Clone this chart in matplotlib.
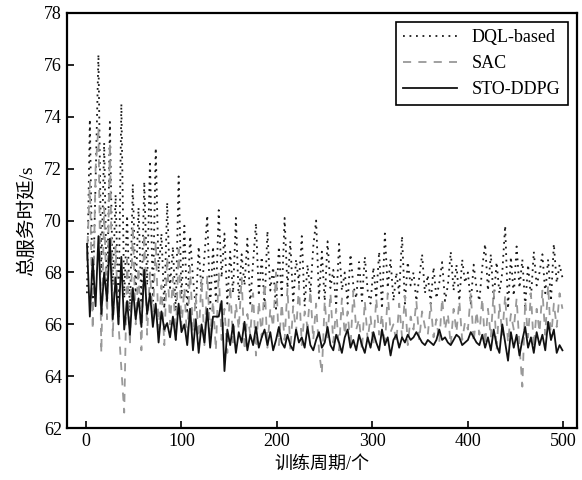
import numpy as np
import matplotlib.pyplot as plt

plt.rcParams['font.family'] = ['Liberation Serif', 'Noto Sans CJK SC']
plt.rcParams['axes.unicode_minus'] = False

# episodes sampled every 3
episodes = np.arange(1, 500, 3)

dql = [67.2, 73.9, 66.8, 71.5, 76.4, 68.0, 73.0, 66.6, 73.8, 67.5,
       71.0, 66.3, 74.5, 67.0, 70.2, 66.5, 71.4, 67.2, 70.5, 66.8,
       71.5, 67.5, 72.3, 66.9, 72.8, 68.0, 69.5, 66.6, 70.7, 67.4,
       69.0, 66.5, 71.7, 67.0, 69.8, 66.4, 69.4, 67.8, 66.6, 69.0,
       67.2, 68.6, 70.2, 66.6, 69.0, 66.9, 70.4, 67.8, 69.5, 66.8,
       68.8, 67.2, 70.1, 66.9, 68.7, 67.5, 69.3, 66.8, 68.4, 69.9,
       67.1, 68.6, 66.7, 69.6, 67.3, 68.2, 66.6, 69.0, 67.0, 70.1,
       67.4, 69.2, 66.8, 68.5, 67.6, 69.4, 66.7, 68.3, 67.2, 69.0,
       70.0, 67.0, 68.8, 66.9, 69.2, 67.4, 68.1, 66.7, 69.1, 67.3,
       68.0, 66.8, 68.7, 67.5, 67.0, 68.4, 66.9, 68.6, 67.3, 66.8,
       68.2, 67.0, 68.8, 66.6, 69.5, 67.4, 68.5, 66.9, 68.0, 67.2,
       69.4, 66.8, 68.4, 67.5, 68.0, 66.9, 67.8, 68.7, 67.2, 67.9,
       66.8, 68.2, 67.0, 67.6, 68.4, 66.9, 67.5, 68.8, 67.3, 68.3,
       66.9, 68.5, 67.6, 68.0, 66.8, 68.3, 67.4, 66.9, 68.2, 69.1,
       67.3, 68.7, 66.9, 68.4, 67.2, 68.0, 69.8, 66.6, 68.6, 67.1,
       69.0, 67.4, 68.5, 66.7, 68.3, 67.0, 68.8, 67.5, 68.0, 68.7,
       67.2, 68.5, 66.9, 69.1, 67.6, 68.3, 67.8]

sac = [68.5, 71.5, 65.8, 72.0, 73.6, 64.9, 70.5, 66.2, 73.0, 65.5,
       69.0, 66.0, 64.3, 62.6, 68.5, 65.2, 69.8, 66.0, 68.2, 65.0,
       69.5, 65.6, 68.0, 66.2, 69.2, 65.8, 67.5, 65.2, 68.6, 66.0,
       67.8, 65.4, 68.9, 65.9, 67.4, 65.3, 68.2, 65.7, 67.1, 65.5,
       67.8, 65.2, 67.9, 65.6, 66.9, 65.0, 68.0, 65.4, 66.6, 64.9,
       67.5, 65.3, 66.8, 65.8, 67.8, 65.0, 66.4, 65.6, 67.2, 64.8,
       66.9, 65.5, 67.6, 65.1, 66.6, 65.9, 68.0, 65.2, 66.8, 65.4,
       67.4, 65.0, 66.7, 65.7, 67.5, 65.2, 66.5, 65.9, 67.3, 65.4,
       66.8, 65.0, 64.1, 66.9, 65.5, 67.2, 65.3, 66.6, 65.0, 67.0,
       65.6, 66.5, 65.1, 67.3, 65.8, 66.2, 65.0, 66.9, 65.4, 66.3,
       65.2, 67.0, 65.6, 66.4, 65.1, 67.2, 65.7, 66.0, 65.3, 66.8,
       65.5, 67.1, 65.2, 66.3, 65.8, 66.9, 65.4, 66.5, 65.9, 65.6,
       66.8, 65.5, 66.2, 65.3, 67.0, 65.8, 66.4, 65.2, 66.6, 65.7,
       66.9, 65.4, 66.1, 65.8, 67.2, 65.3, 66.5, 65.6, 67.0, 65.2,
       66.6, 65.5, 67.3, 65.0, 66.8, 65.6, 67.1, 65.3, 66.4, 65.8,
       67.0, 65.2, 63.6, 66.9, 65.5, 67.2, 65.1, 66.6, 65.7, 67.3,
       65.6, 67.5, 65.4, 66.8, 65.9, 67.2, 66.6]

sto_ddpg = [69.1, 66.3, 68.5, 66.7, 69.4, 66.4, 68.0, 66.9, 69.3, 66.2,
            67.8, 66.0, 68.6, 65.8, 66.9, 65.6, 67.4, 66.2, 67.0, 65.9,
            68.1, 66.4, 67.2, 65.9, 66.8, 65.3, 66.5, 65.8, 66.05, 65.5,
            66.3, 65.4, 66.8, 65.7, 66.0, 65.2, 66.6, 65.0, 66.2, 64.9,
            66.0, 65.3, 66.6, 65.1, 66.3, 66.3, 66.3, 66.9, 64.2, 65.8,
            65.2, 66.0, 64.9, 65.7, 65.3, 66.1, 65.0, 65.6, 65.2, 65.9,
            65.1, 65.5, 65.8, 65.2, 65.7, 65.0, 65.4, 65.9, 65.3, 65.1,
            65.6, 65.2, 65.0, 65.8, 65.3, 65.5, 65.1, 65.9, 65.2, 65.0,
            65.4, 65.7, 65.1, 65.3, 65.9, 65.2, 65.0, 65.6, 65.3, 64.9,
            65.5, 65.8, 65.1, 65.4, 65.0, 65.6, 65.2, 64.9, 65.5, 65.1,
            65.7, 65.3, 65.0, 65.8, 65.2, 65.5, 64.8, 65.4, 65.6, 65.1,
            65.5, 65.3, 65.6, 65.4, 65.5, 65.7, 65.5, 65.3, 65.2, 65.4,
            65.3, 65.2, 65.4, 65.8, 65.4, 65.5, 65.3, 65.2, 65.4, 65.6,
            65.5, 65.2, 65.3, 65.4, 65.7, 65.5, 65.3, 65.2, 65.6, 65.1,
            65.5, 65.0, 65.8, 65.2, 64.9, 66.0, 65.3, 64.6, 65.7, 65.1,
            65.6, 64.8, 65.4, 65.9, 65.1, 65.5, 64.9, 65.7, 65.2, 65.6,
            65.0, 66.1, 65.4, 65.8, 64.9, 65.2, 65.0]

fig = plt.figure(figsize=(5.82, 4.8), dpi=100)
ax = fig.add_axes([0.115, 0.108, 0.876, 0.865])

ax.plot(episodes, dql, color='#1a1a1a', linestyle=(0, (1.0, 2.6)), lw=1.3, label='DQL-based')
ax.plot(episodes, sac, color='#999999', linestyle=(0, (4.5, 4)), lw=1.3, label='SAC')
ax.plot(episodes, sto_ddpg, color='#111111', linestyle='-', lw=1.3, label='STO-DDPG')

ax.set_xlim(-20, 514)
ax.set_ylim(62, 78)
ax.set_xticks([0, 100, 200, 300, 400, 500])
ax.set_yticks(range(62, 79, 2))
ax.tick_params(direction='in', length=5, width=1.2, labelsize=13)
for s in ax.spines.values():
    s.set_linewidth(1.6)

ax.set_xlabel('训练周期/个', fontsize=13)
ax.set_ylabel('总服务时延/s', fontsize=14, labelpad=6)

leg = ax.legend(loc='upper right', fontsize=13, handlelength=3, fancybox=False,
                edgecolor='black', framealpha=1, borderaxespad=0.5)
leg.get_frame().set_linewidth(1.2)

fig.savefig('out.png', dpi=100)
